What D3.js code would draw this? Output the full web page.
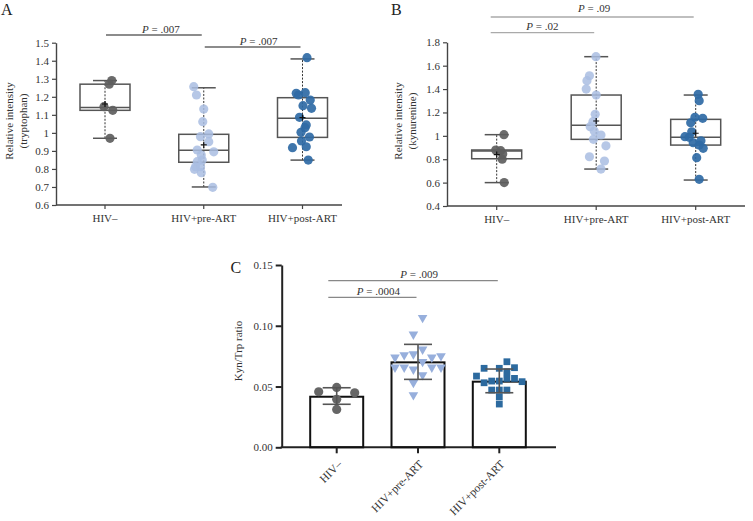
<!DOCTYPE html>
<html><head><meta charset="utf-8">
<script src="https://cdn.jsdelivr.net/npm/d3@7"></script>
<style>body{margin:0;background:#fff}svg{display:block}svg text{font-family:"Liberation Serif","DejaVu Serif",serif}</style>
</head><body><svg id="c" width="753" height="521"></svg>
<script>
// ---------- DATA ----------
const groups = ["HIV–", "HIV+pre-ART", "HIV+post-ART"];

// Panel A: tryptophan relative intensity
const trpNeg  = [1.29, 1.27, 1.145, 1.125, 0.97];
const trpPre  = [1.256, 1.21, 1.132, 1.062, 0.994, 0.979, 0.951, 0.895, 0.905, 0.877, 0.849, 0.84, 0.812, 0.812, 0.798, 0.779, 0.698];
const trpPost = [1.417, 1.219, 1.21, 1.223, 1.182, 1.151, 1.136, 1.086, 1.044, 1.029, 1.003, 0.977, 0.955, 0.918, 0.923, 0.849];
const trpNegJit  = [0.27, 0.17, -0.04, 0.31, 0.2];
const trpPreJit  = [-0.4, -0.29, 0, -0.04, 0.2, -0.13, 0.2, 0.4, -0.26, -0.1, -0.06, -0.26, -0.33, -0.13, -0.37, -0.1, 0.36];
const trpPostJit = [0.18, -0.25, -0.16, 0.11, 0.31, 0.02, 0.36, -0.12, 0.15, 0.1, -0.06, 0.28, -0.04, -0.4, 0.15, 0.23];
const trpLow  = [0.97, 0.70, 0.849];
const trpQ1   = [1.125, 0.837, 0.975];
const trpMed  = [1.14, 0.903, 1.081];
const trpQ3   = [1.27, 0.992, 1.195];
const trpHigh = [1.29, 1.25, 1.41];
const trpMean = [1.16, 0.933, 1.085];
const trpTicks = [0.6, 0.7, 0.8, 0.9, 1.0, 1.1, 1.2, 1.3, 1.4, 1.5];
const trpSig = [[0, 1, ".007"], [1, 2, ".007"]];

// Panel B: kynurenine relative intensity
const kynNeg  = [1.01, 0.879, 0.873, 0.845, 0.80, 0.60];
const kynPre  = [1.677, 1.514, 1.472, 1.40, 1.349, 1.184, 1.121, 1.078, 1.041, 1.007, 0.97, 0.915, 0.821, 0.785, 0.716];
const kynPost = [1.355, 1.30, 1.158, 1.15, 1.112, 1.035, 0.993, 0.987, 0.941, 0.958, 0.921, 0.893, 0.813, 0.628];
const kynNegJit  = [0.29, -0.04, 0.16, 0.24, 0.22, 0.3];
const kynPreJit  = [-0.01, -0.27, -0.37, -0.4, 0, -0.04, -0.13, -0.24, -0.08, 0.19, -0.11, 0.39, -0.27, 0.33, 0.19];
const kynPostJit = [0.1, 0.14, -0.03, 0.28, -0.2, -0.16, -0.43, -0.26, -0.1, 0.21, 0.14, 0.3, 0.04, 0.14];
const kynLow  = [0.60, 0.716, 0.622];
const kynQ1   = [0.804, 0.97, 0.921];
const kynMed  = [0.87, 1.09, 0.987];
const kynQ3   = [0.879, 1.349, 1.141];
const kynHigh = [1.01, 1.677, 1.349];
const kynMean = [0.84, 1.127, 1.022];
const kynTicks = [0.4, 0.6, 0.8, 1.0, 1.2, 1.4, 1.6, 1.8];
const kynSig = [[0, 1, ".02"], [0, 2, ".09"]];

// Panel C: Kyn/Trp ratio
const ratioNeg  = [0.0457, 0.0493, 0.0449, 0.0395, 0.0312];
const ratioPre  = [0.1066, 0.0929, 0.0806, 0.074, 0.0759, 0.0767, 0.074, 0.0751, 0.0704, 0.0658, 0.0658, 0.0641, 0.0658, 0.0658, 0.0595, 0.0531, 0.043];
const ratioPost = [0.0704, 0.065, 0.065, 0.0655, 0.0622, 0.0586, 0.0531, 0.0545, 0.0545, 0.0567, 0.0567, 0.054, 0.0471, 0.0471, 0.0471, 0.0416, 0.0356];
const ratioNegCol  = [-2, 0, 2, 0, 0];
const ratioPreCol  = [0.5, -0.5, 0.5, -2.5, -1.5, -0.5, 1.5, 2.5, 0.5, -2.5, -1.5, -0.5, 1.5, 2.5, 0.5, -0.5, -0.5];
const ratioPostCol = [1, -2, 0, 2, 1, -3, -2, -1, 0, 1, 2, 3, -1, 0, 1, 0, 0];
const ratioMean = [0.0416, 0.0699, 0.054];
const ratioLow  = [0.0354, 0.0559, 0.0449];
const ratioHigh = [0.049, 0.0847, 0.0644];
const ratioTicks = [0, 0.05, 0.10, 0.15];
const ratioSig = [[0, 1, ".0004"], [0, 2, ".009"]];

// ---------- DRAW ----------
const FONT = '"Liberation Serif","DejaVu Serif",serif';
const svg = d3.select("#c");
const FS = 11;
const ptColors = ["#5e5e5e", "#a9bde2", "#2f6aa5"];
const ptOpac = [0.92, 0.85, 0.92];

function txt(g) { return g.append("text").attr("font-family", FONT); }

function sigText(g, x, y, label) {
  const t = txt(g).attr("x", x).attr("y", y).attr("text-anchor", "middle")
    .attr("font-size", FS).attr("fill", "#333");
  t.append("tspan").attr("font-style", "italic").text("P");
  t.append("tspan").text(" = " + label);
}

function boxPanel(o) {
  const g = svg.append("g");
  const x = d3.scalePoint().domain(groups).range(o.xr);
  const y = d3.scaleLinear().domain(o.yd).range(o.yr);
  const ya = g.append("g").attr("transform", `translate(${o.ax},0)`)
    .call(d3.axisLeft(y).tickValues(o.ticks).tickSize(4).tickSizeOuter(0).tickPadding(3)
      .tickFormat(d => String(+d.toFixed(1))));
  ya.attr("font-family", FONT);
  ya.select(".domain").attr("stroke", "#444").attr("stroke-width", 1.4);
  ya.selectAll(".tick line").attr("stroke", "#444").attr("stroke-width", 1.2);
  ya.selectAll(".tick text").attr("font-size", FS).attr("fill", "#333").attr("font-family", FONT);
  const yb = y(o.yd[0]);
  g.append("line").attr("x1", o.ax).attr("x2", o.axEnd).attr("y1", yb).attr("y2", yb)
    .attr("stroke", "#444").attr("stroke-width", 1.4);
  groups.forEach(c => {
    g.append("line").attr("x1", x(c)).attr("x2", x(c)).attr("y1", yb).attr("y2", yb + 4)
      .attr("stroke", "#444").attr("stroke-width", 1.2);
    txt(g).attr("x", x(c)).attr("y", yb + 17).attr("text-anchor", "middle")
      .attr("font-size", FS).attr("fill", "#333").text(c);
  });
  o.ylab.forEach((s, i) => {
    txt(g).attr("transform", `translate(${o.ylx[i]},${o.yly}) rotate(-90)`)
      .attr("text-anchor", "middle").attr("dy", "0.35em").attr("font-size", FS).attr("fill", "#333").text(s);
  });
  const hw = 25, cw = 12;
  groups.forEach((c, i) => {
    const cx = x(c);
    g.append("line").attr("x1", cx).attr("x2", cx).attr("y1", y(o.low[i])).attr("y2", y(o.high[i]))
      .attr("stroke", "#333").attr("stroke-width", 1).attr("stroke-dasharray", "2,1.5");
    [o.low[i], o.high[i]].forEach(v => g.append("line").attr("x1", cx - cw).attr("x2", cx + cw)
      .attr("y1", y(v)).attr("y2", y(v)).attr("stroke", "#555").attr("stroke-width", 1.5));
    g.append("rect").attr("x", cx - hw).attr("width", 2 * hw).attr("y", y(o.q3[i]))
      .attr("height", y(o.q1[i]) - y(o.q3[i])).attr("fill", "none").attr("stroke", "#555").attr("stroke-width", 1.5);
    g.append("line").attr("x1", cx - hw).attr("x2", cx + hw).attr("y1", y(o.med[i])).attr("y2", y(o.med[i]))
      .attr("stroke", "#555").attr("stroke-width", 1.5);
    g.selectAll(null).data(o.pts[i]).enter().append("circle")
      .attr("cx", (d, k) => cx + o.jit[i][k] * hw).attr("cy", d => y(d)).attr("r", 4.6)
      .attr("fill", ptColors[i]).attr("fill-opacity", ptOpac[i]);
    g.append("path").attr("d", `M${cx - 3},${y(o.mean[i])}h6M${cx},${y(o.mean[i]) - 3}v6`)
      .attr("stroke", "#111").attr("stroke-width", 1.2);
  });
  o.sig.forEach((s, k) => {
    const x1 = x(groups[s[0]]) + o.sigOff[0], x2 = x(groups[s[1]]) + o.sigOff[1];
    g.append("line").attr("x1", x1).attr("x2", x2).attr("y1", o.sigY[k]).attr("y2", o.sigY[k])
      .attr("stroke", o.sigColor).attr("stroke-width", 1.3);
    sigText(g, (x1 + x2) / 2 + o.sigTx[k], o.sigY[k] - o.sigTy[k], s[2]);
  });
  txt(g).attr("x", o.lab[1]).attr("y", o.lab[2]).attr("font-size", 16).attr("fill", "#222").text(o.lab[0]);
}

boxPanel({
  xr: [105, 302.5], yd: [0.6, 1.5], yr: [205, 42.7], ax: 56, axEnd: 342, ticks: trpTicks,
  ylab: ["Relative intensity", "(tryptophan)"], ylx: [9, 23], yly: 121,
  pts: [trpNeg, trpPre, trpPost], jit: [trpNegJit, trpPreJit, trpPostJit],
  low: trpLow, q1: trpQ1, med: trpMed, q3: trpQ3, high: trpHigh, mean: trpMean,
  sig: trpSig, sigY: [35, 47], sigOff: [1, -2], sigTx: [7, 6], sigTy: [2.5, 2.5], sigColor: "#666",
  lab: ["A", 1, 15]
});
boxPanel({
  xr: [496.7, 695.7], yd: [0.4, 1.8], yr: [206, 42.3], ax: 447, axEnd: 745, ticks: kynTicks,
  ylab: ["Relative intensity", "(kynurenine)"], ylx: [398.5, 412], yly: 121,
  pts: [kynNeg, kynPre, kynPost], jit: [kynNegJit, kynPreJit, kynPostJit],
  low: kynLow, q1: kynQ1, med: kynMed, q3: kynQ3, high: kynHigh, mean: kynMean,
  sig: kynSig, sigY: [32.7, 17], sigOff: [-6, -2], sigTx: [0, 2], sigTy: [3, 5], sigColor: "#aaa",
  lab: ["B", 391, 15]
});

// Panel C
(function () {
  const g = svg.append("g");
  const x = d3.scalePoint().domain(groups).range([336.7, 499.3]);
  const y = d3.scaleLinear().domain([0, 0.15]).range([447.3, 265]);
  const ax = 281.7, axEnd = 556, yb = y(0);
  const ya = g.append("g").attr("transform", `translate(${ax},0)`)
    .call(d3.axisLeft(y).tickValues(ratioTicks).tickSize(6).tickSizeOuter(0).tickPadding(3).tickFormat(d3.format(".2f")));
  ya.attr("font-family", FONT);
  ya.select(".domain").attr("stroke", "#222").attr("stroke-width", 2);
  ya.selectAll(".tick line").attr("stroke", "#222").attr("stroke-width", 2);
  ya.selectAll(".tick text").attr("font-size", FS).attr("fill", "#333").attr("font-family", FONT);
  g.append("line").attr("x1", ax - 1).attr("x2", axEnd).attr("y1", yb).attr("y2", yb)
    .attr("stroke", "#222").attr("stroke-width", 2);
  txt(g).attr("transform", `translate(238.5,351) rotate(-90)`).attr("text-anchor", "middle")
    .attr("dy", "0.35em").attr("font-size", FS).attr("fill", "#333").text("Kyn/Trp ratio");
  const bw = 26.5;
  const pts = [ratioNeg, ratioPre, ratioPost], cols = [ratioNegCol, ratioPreCol, ratioPostCol];
  const steps = [9, 9.2, 7.6];
  const cColors = ["#666666", "#97afdc", "#2c6a9f"];
  const sym = [null, d3.symbol(d3.symbolTriangle, 40), d3.symbol(d3.symbolSquare, 46)];
  groups.forEach((c, i) => {
    const cx = x(c);
    g.append("rect").attr("x", cx - bw).attr("width", 2 * bw).attr("y", y(ratioMean[i]))
      .attr("height", yb - y(ratioMean[i])).attr("fill", "none").attr("stroke", "#111").attr("stroke-width", 2);
    g.append("line").attr("x1", cx).attr("x2", cx).attr("y1", yb).attr("y2", yb + 6)
      .attr("stroke", "#222").attr("stroke-width", 2);
    txt(g).attr("transform", `translate(${cx + 6},465) rotate(-45)`).attr("text-anchor", "end")
      .attr("font-size", 11.5).attr("fill", "#333").text(c);
    const sel = g.selectAll(null).data(pts[i]).enter();
    if (i === 0) {
      sel.append("circle").attr("cx", (d, k) => cx + cols[i][k] * steps[i]).attr("cy", d => y(d))
        .attr("r", 4.6).attr("fill", cColors[i]);
    } else {
      sel.append("path").attr("d", sym[i])
        .attr("transform", (d, k) => `translate(${cx + cols[i][k] * steps[i]},${y(d)})${i === 1 ? " rotate(180)" : ""}`)
        .attr("fill", cColors[i]);
    }
    g.append("line").attr("x1", cx).attr("x2", cx).attr("y1", y(ratioLow[i])).attr("y2", y(ratioHigh[i]))
      .attr("stroke", "#555").attr("stroke-width", 1.6);
    [ratioLow[i], ratioHigh[i]].forEach(v => g.append("line").attr("x1", cx - 14).attr("x2", cx + 14)
      .attr("y1", y(v)).attr("y2", y(v)).attr("stroke", "#555").attr("stroke-width", 1.6));
  });
  const sigY = [297.3, 280.7];
  ratioSig.forEach((s, k) => {
    const x1 = x(groups[s[0]]) - 8.4, x2 = x(groups[s[1]]) - 1.5;
    g.append("line").attr("x1", x1).attr("x2", x2).attr("y1", sigY[k]).attr("y2", sigY[k])
      .attr("stroke", "#888").attr("stroke-width", 1.3);
    sigText(g, (x1 + x2) / 2 + 6, sigY[k] - 2.5, s[2]);
  });
  txt(g).attr("x", 230.5).attr("y", 273).attr("font-size", 16).attr("fill", "#222").text("C");
})();
</script></body></html>
